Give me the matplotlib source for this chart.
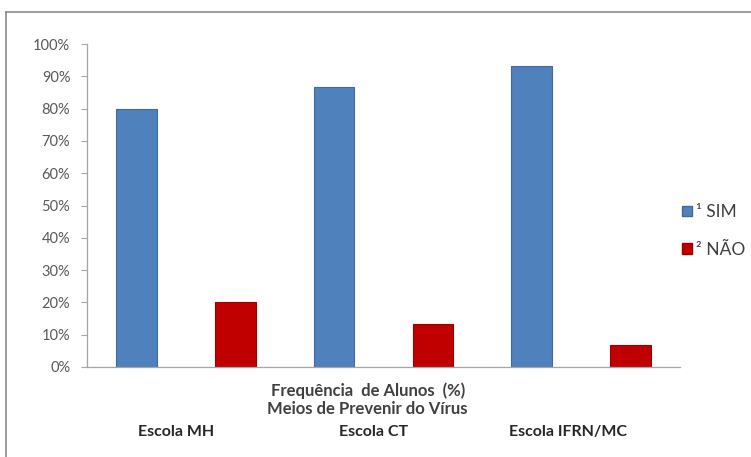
import matplotlib.pyplot as plt
from matplotlib.lines import Line2D
from matplotlib.patches import Patch

plt.rcParams['font.family'] = ['Lato', 'DejaVu Sans']

# one bar per category slot: SIM / NÃO alternating for each school
slots = ['MH SIM', 'MH NÃO', 'CT SIM', 'CT NÃO', 'IFRN SIM', 'IFRN NÃO']
sim = [0.80, 0.8667, 0.9333]
nao = [0.20, 0.1333, 0.0667]
escolas = ['Escola MH', 'Escola CT', 'Escola IFRN/MC']
escola_x = [0.40, 2.40, 4.37]
yticks = [0, 0.1, 0.2, 0.3, 0.4, 0.5, 0.6, 0.7, 0.8, 0.9, 1.0]

blue = '#4F81BD'
red = '#C00000'

fig = plt.figure(figsize=(7.51, 4.57), dpi=100)
ax = fig.add_axes([87 / 751, 1 - 367 / 457, 593 / 751, 323 / 457])

x_sim = [0, 2, 4]
x_nao = [1, 3, 5]
ax.bar(x_sim, sim, width=0.41, color=blue, edgecolor='#3F6A9C', linewidth=0.8)
ax.bar(x_nao, nao, width=0.41, color=red, edgecolor='#9E0000', linewidth=0.8)

ax.set_xlim(-0.5, len(slots) - 0.5)
ax.set_ylim(0, 1.0)
ax.set_yticks(yticks)
ax.set_yticklabels([f'{int(round(v * 100))}%' for v in yticks])
ax.set_xticks([])
ax.tick_params(axis='y', length=4, width=0.8, color='#A6A6A6', pad=8,
               labelsize=10.5, labelcolor='#595959')
for side in ('top', 'right'):
    ax.spines[side].set_visible(False)
for side in ('left', 'bottom'):
    ax.spines[side].set_color('#A6A6A6')
    ax.spines[side].set_linewidth(0.9)

# axis captions and school names under the bars
ax.text(2.34, -0.072, 'Frequência  de Alunos  (%)', ha='center', va='center',
        fontsize=12, fontweight='bold', color='#404040', clip_on=False)
ax.text(2.34, -0.130, 'Meios de Prevenir do Vírus', ha='center', va='center',
        fontsize=12, fontweight='bold', color='#404040', clip_on=False)
for xe, name in zip(escola_x, escolas):
    ax.text(xe, -0.200, name, ha='center', va='center', fontsize=11.5,
            fontweight='bold', color='#262626', clip_on=False)

handles = [Patch(facecolor=blue, edgecolor='#3F6A9C'),
           Patch(facecolor=red, edgecolor='#9E0000')]
leg = fig.legend(handles, ['¹ SIM', '² NÃO'], loc='center left',
                 bbox_to_anchor=(682 / 751, 1 - 231 / 457), frameon=False,
                 fontsize=12.5, handlelength=0.55, handleheight=0.55,
                 handletextpad=0.25, labelspacing=1.25, borderpad=0,
                 borderaxespad=0)
for t in leg.get_texts():
    t.set_color('#404040')

# outer chart frame
frame_color = '#8C8C8C'
fig.add_artist(Line2D([6 / 751, 6 / 751], [0, 1 - 12 / 457],
                      transform=fig.transFigure, color=frame_color, lw=1.2))
fig.add_artist(Line2D([6 / 751, 1], [1 - 12 / 457, 1 - 12 / 457],
                      transform=fig.transFigure, color=frame_color, lw=1.2))

fig.savefig('out.png', dpi=100)
